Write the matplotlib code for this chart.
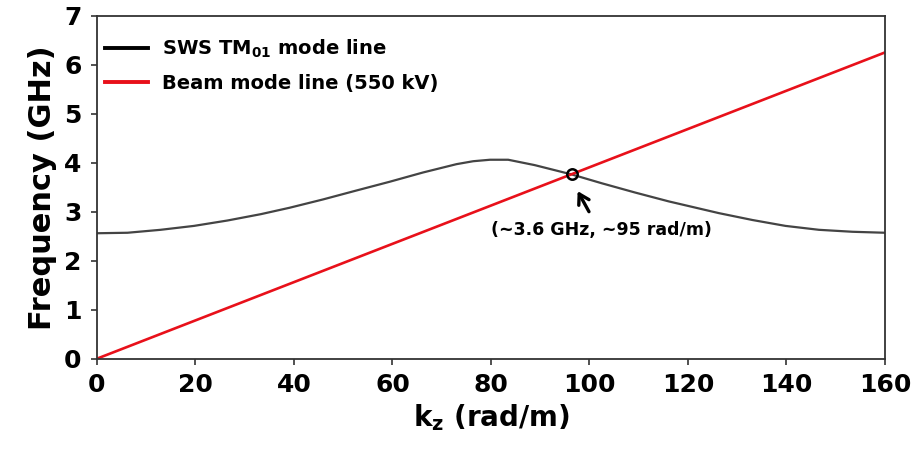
import matplotlib
matplotlib.use("Agg")
import matplotlib.pyplot as plt

# Data
kz_sws = [0, 6.2, 12.9, 19.7, 26.5, 33.3, 39.1, 45.9, 52.6, 59.4, 66.2, 73.0, 76.4,
          79.8, 83.5, 88.9, 96.4, 102.5, 109.3, 116.1, 119.5, 126.3, 133.1, 139.8,
          146.6, 153.4, 160]
f_sws = [2.56, 2.57, 2.63, 2.71, 2.82, 2.95, 3.08, 3.25, 3.43, 3.61, 3.80, 3.97, 4.03,
         4.06, 4.06, 3.95, 3.76, 3.58, 3.39, 3.21, 3.13, 2.97, 2.83, 2.71,
         2.63, 2.59, 2.57]
kz_beam = [0, 160]
f_beam = [0, 6.25]
cross_k = 96.5
cross_f = 3.76
annot_text = "(~3.6 GHz, ~95 rad/m)"
xticks = [0, 20, 40, 60, 80, 100, 120, 140, 160]
yticks = [0, 1, 2, 3, 4, 5, 6, 7]

fam = ['DejaVu Sans']

fig = plt.figure(figsize=(9.13, 4.51), dpi=100)
ax = fig.add_axes([0.1062, 0.2047, 0.8631, 0.7605])

ax.plot(kz_sws, f_sws, color='#444444', lw=1.6, solid_joinstyle='round',
        label='SWS TM$_{\\mathbf{01}}$ mode line')
ax.plot(kz_beam, f_beam, color='#e8101a', lw=1.9, label='Beam mode line (550 kV)')
ax.plot([cross_k], [cross_f], marker='o', ms=7.5, mfc='none', mec='black', mew=1.8,
        ls='none', zorder=5)

ax.annotate('', xy=(97.6, 3.42), xytext=(99.9, 3.0),
            arrowprops=dict(arrowstyle='->,head_length=0.5,head_width=0.3',
                            color='black', lw=2.4, mutation_scale=14,
                            shrinkA=0, shrinkB=0))
ax.text(102.4, 2.63, annot_text, ha='center', va='center', fontsize=12.5,
        fontweight='bold', family=fam)

ax.set_xlim(0, 160)
ax.set_ylim(0, 7)
ax.set_xticks(xticks)
ax.set_yticks(yticks)
ax.set_xticklabels([str(v) for v in xticks], fontsize=18, fontweight='bold', family=fam)
ax.set_yticklabels([str(v) for v in yticks], fontsize=18, fontweight='bold', family=fam)
ax.tick_params(axis='both', direction='out', length=4, width=1.2, color='#333333')
ax.tick_params(axis='x', pad=6)
ax.tick_params(axis='y', pad=7)
for s in ax.spines.values():
    s.set_linewidth(1.3)
    s.set_color('#333333')

ax.set_xlabel('k$_{\\mathbf{z}}$ (rad/m)', fontsize=20, fontweight='bold', family=fam,
              labelpad=4)
ax.set_ylabel('Frequency (GHz)', fontsize=22, fontweight='bold', family=fam, labelpad=5)

leg = ax.legend(loc='upper left', bbox_to_anchor=(0.01, 0.935), frameon=False,
                prop={'family': fam, 'weight': 'bold', 'size': 14},
                handlelength=2.2, handletextpad=0.72, borderaxespad=0, borderpad=0,
                labelspacing=0.7)
for h in leg.legend_handles:
    h.set_linewidth(2.8)
leg.legend_handles[0].set_color('black')

fig.savefig('out.png', dpi=100)
